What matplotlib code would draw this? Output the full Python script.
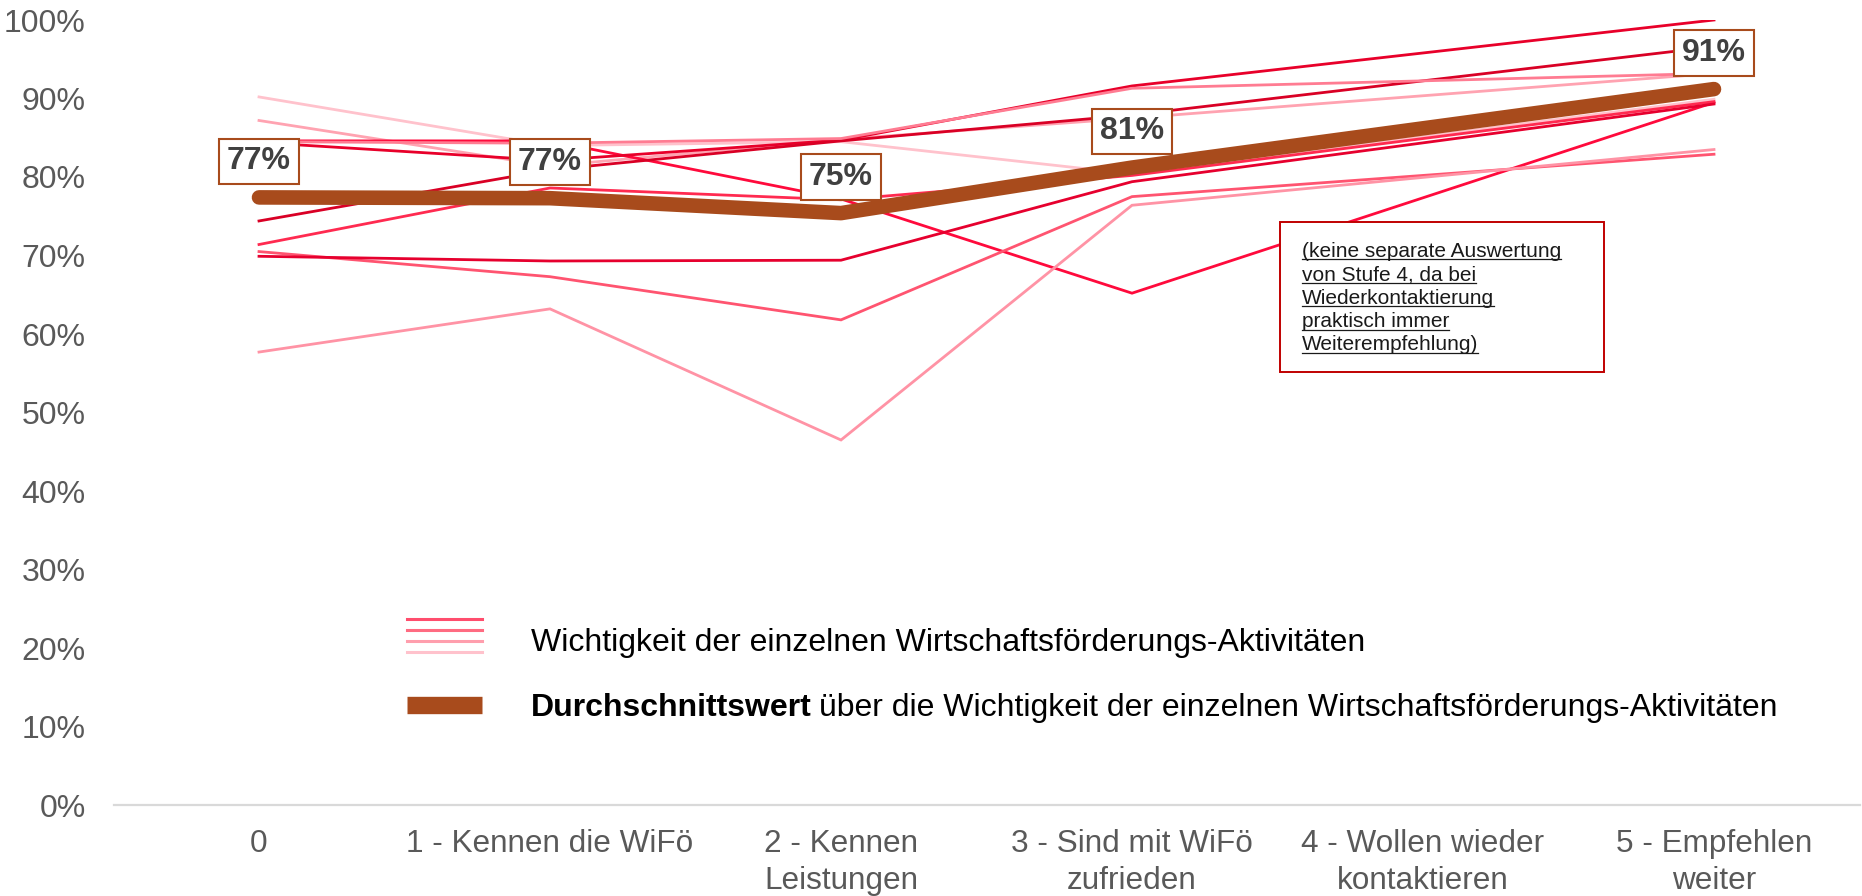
import matplotlib
matplotlib.use("Agg")
import matplotlib.pyplot as plt
from matplotlib.lines import Line2D
from matplotlib.patches import Rectangle

plt.rcParams['font.family'] = ['Liberation Sans', 'DejaVu Sans']

# Stages (stage 4 has no separate values; lines run straight from 3 to 5)
categories = ["0", "1 - Kennen die WiFö", "2 - Kennen\nLeistungen",
              "3 - Sind mit WiFö\nzufrieden", "4 - Wollen wieder\nkontaktieren",
              "5 - Empfehlen\nweiter"]
stage_pos = [0, 1, 2, 3, 5]

# Importance of the individual activities per stage (in %)
activity_values = [
    [90.2, 84.0, 84.5, 80.4, 89.9],
    [87.2, 81.4, 84.8, 87.5, 93.2],
    [84.6, 84.6, 77.2, 65.2, 89.5],
    [84.4, 82.1, 84.7, 91.6, 100.0],
    [74.4, 80.9, 84.6, 87.9, 96.6],
    [71.4, 78.6, 77.1, 80.2, 89.6],
    [70.5, 67.3, 61.8, 77.5, 82.9],
    [69.9, 69.3, 69.4, 79.4, 89.3],
    [57.7, 63.2, 46.5, 76.4, 83.5],
    [84.5, 84.3, 84.9, 91.3, 93.2],
]
activity_colors = ["#FFC2CC", "#FFA3B1", "#FF0A3C", "#E8002A", "#D90025",
                   "#FF2A50", "#FF5470", "#E6002E", "#FF93A5", "#FF7C92"]

# Average across all activities
average_values = [77.4, 77.3, 75.4, 81.2, 91.2]

y_ticks = [0, 10, 20, 30, 40, 50, 60, 70, 80, 90, 100]

legend_colors = ["#FF4D6D", "#FF6B81", "#FF9EAD", "#FFC2CC"]
brown = "#A84B1C"
grey_text = "#595959"

W, H = 1862, 896
fig = plt.figure(figsize=(W / 100, H / 100), dpi=100)
ax = fig.add_axes([113.5 / W, 1 - 805 / H, (1859.5 - 113.5) / W, (805 - 20) / H])


def fx(x):
    return x / W


def fy(y):
    return 1 - y / H


for vals, col in zip(activity_values, activity_colors):
    ax.plot(stage_pos, vals, color=col, lw=2.0, zorder=2, solid_joinstyle='miter')

ax.plot(stage_pos, average_values, color=brown, lw=10.5, zorder=4,
        solid_capstyle='round', solid_joinstyle='round')

for x, v in zip(stage_pos, average_values):
    ax.annotate(f"{v:.0f}%", xy=(x, v), xytext=(0, 26), textcoords='offset points',
                ha='center', va='center', fontsize=23, fontweight='bold', color="#404040",
                zorder=6,
                bbox=dict(boxstyle='square,pad=0.24', fc='white', ec=brown, lw=1.5))

ax.set_xlim(-0.5, 5.5)
ax.set_ylim(0, 100)
ax.set_xticks(range(len(categories)))
ax.set_xticklabels(categories, fontsize=22.7, color=grey_text, linespacing=1.3)
ax.set_yticks(y_ticks)
ax.set_yticklabels([f"{t}%" for t in y_ticks], fontsize=23, color=grey_text)
ax.tick_params(axis='both', length=0)
ax.tick_params(axis='x', pad=17)
ax.tick_params(axis='y', pad=20)
for side in ['top', 'right', 'left']:
    ax.spines[side].set_visible(False)
ax.spines['bottom'].set_color("#D9D9D9")
ax.spines['bottom'].set_linewidth(1.6)
ax.patch.set_alpha(0)

# Note box about stage 4
note_lines = ["(keine separate Auswertung", "von Stufe 4, da bei",
              "Wiederkontaktierung", "praktisch immer", "Weiterempfehlung)"]
fig.add_artist(Rectangle((fx(1280), fy(372)), fx(1604) - fx(1280), fy(222) - fy(372),
                         transform=fig.transFigure, fc='white', ec="#C00000",
                         lw=1.4, zorder=5))
note_texts = []
for i, line in enumerate(note_lines):
    t = fig.text(fx(1302), fy(251 + i * 23.5), line, fontsize=15, color="#1A1A1A",
                 ha='left', va='center', zorder=6)
    note_texts.append(t)

# Legend
leg_ys = [619, 630, 641, 652]
for y, c in zip(leg_ys, legend_colors):
    fig.add_artist(Line2D([fx(407), fx(482)], [fy(y), fy(y)], color=c, lw=2.2,
                          transform=fig.transFigure))
fig.text(fx(531), fy(643), "Wichtigkeit der einzelnen Wirtschaftsförderungs-Aktivitäten",
         fontsize=23, color="black", ha='left', va='center')

fig.add_artist(Line2D([fx(407), fx(482)], [fy(705), fy(705)], color=brown, lw=12.5,
                      solid_capstyle='butt', transform=fig.transFigure))
t_bold = fig.text(fx(531), fy(708), "Durchschnittswert", fontsize=23, fontweight='bold',
                  color="black", ha='left', va='center')
fig.canvas.draw()
renderer = fig.canvas.get_renderer()
bb = t_bold.get_window_extent(renderer)
fig.text(bb.x1 / W + fx(7), fy(708),
         "über die Wichtigkeit der einzelnen Wirtschaftsförderungs-Aktivitäten",
         fontsize=23, color="black", ha='left', va='center')

# Underline the note text
for t in note_texts:
    b = t.get_window_extent(renderer)
    fig.add_artist(Line2D([b.x0 / W, b.x1 / W], [(b.y0 + 1) / H, (b.y0 + 1) / H],
                          color="#1A1A1A", lw=0.9, transform=fig.transFigure, zorder=6))

fig.savefig("out.png", dpi=100)
